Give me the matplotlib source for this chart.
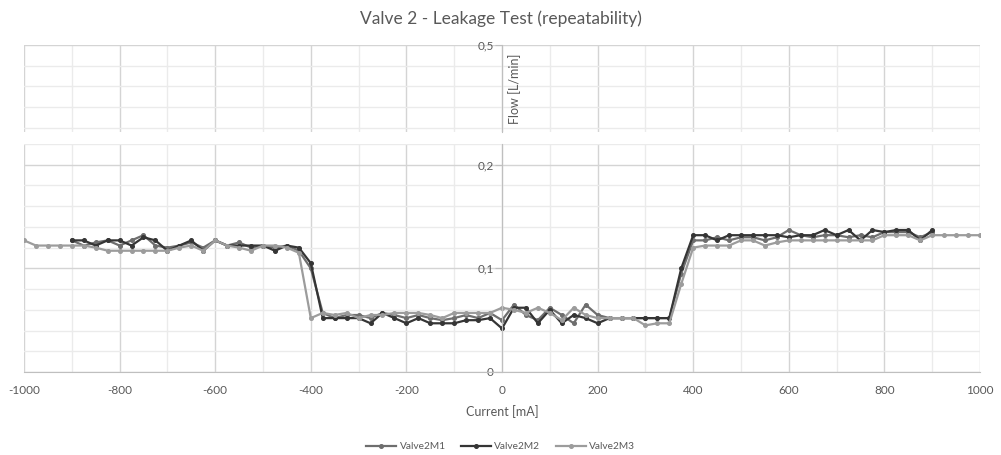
import matplotlib
matplotlib.use("Agg")
import matplotlib.pyplot as plt
from matplotlib.ticker import MultipleLocator, FixedLocator, FuncFormatter

plt.rcParams['font.family'] = ['Lato', 'DejaVu Sans']
plt.rcParams['axes.unicode_minus'] = False

# current sweep [mA]
current_long = list(range(-1000, 1001, 25))
current_short = list(range(-900, 901, 25))

flow_m1 = [0.127, 0.122, 0.125, 0.127, 0.122, 0.127, 0.132, 0.122, 0.120, 0.122,
           0.125, 0.120, 0.127, 0.122, 0.125, 0.120, 0.122, 0.120, 0.122, 0.117,
           0.100, 0.057, 0.052, 0.055, 0.055, 0.052, 0.057, 0.055, 0.052, 0.055,
           0.052, 0.050, 0.052, 0.055, 0.052, 0.057, 0.050, 0.065, 0.055, 0.050,
           0.062, 0.055, 0.047, 0.065, 0.055, 0.052, 0.052, 0.052, 0.052, 0.052,
           0.052, 0.095, 0.127, 0.127, 0.130, 0.127, 0.130, 0.130, 0.127, 0.130,
           0.137, 0.132, 0.130, 0.132, 0.132, 0.130, 0.132, 0.130, 0.135, 0.135,
           0.135, 0.130, 0.135]

flow_m2 = [0.127, 0.127, 0.122, 0.127, 0.127, 0.122, 0.130, 0.127, 0.117, 0.122,
           0.127, 0.117, 0.127, 0.122, 0.122, 0.122, 0.122, 0.117, 0.122, 0.120,
           0.105, 0.052, 0.052, 0.052, 0.052, 0.047, 0.057, 0.052, 0.047, 0.052,
           0.047, 0.047, 0.047, 0.050, 0.050, 0.052, 0.042, 0.062, 0.062, 0.047,
           0.060, 0.047, 0.055, 0.052, 0.047, 0.052, 0.052, 0.052, 0.052, 0.052,
           0.052, 0.100, 0.132, 0.132, 0.127, 0.132, 0.132, 0.132, 0.132, 0.132,
           0.130, 0.132, 0.132, 0.137, 0.132, 0.137, 0.127, 0.137, 0.135, 0.137,
           0.137, 0.127, 0.137]

flow_m3 = [0.127, 0.122, 0.122, 0.122, 0.122, 0.122, 0.120, 0.117, 0.117, 0.117,
           0.117, 0.117, 0.117, 0.120, 0.122, 0.117, 0.127, 0.122, 0.120, 0.117,
           0.122, 0.122, 0.120, 0.115, 0.052, 0.057, 0.055, 0.057, 0.052, 0.055,
           0.055, 0.057, 0.057, 0.057, 0.055, 0.052, 0.057, 0.057, 0.057, 0.057,
           0.062, 0.060, 0.057, 0.062, 0.057, 0.050, 0.062, 0.055, 0.052, 0.052,
           0.052, 0.052, 0.045, 0.047, 0.047, 0.085, 0.120, 0.122, 0.122, 0.122,
           0.127, 0.127, 0.122, 0.125, 0.127, 0.127, 0.127, 0.127, 0.127, 0.127,
           0.127, 0.127, 0.132, 0.132, 0.132, 0.127, 0.132, 0.132, 0.132, 0.132,
           0.132]

series = [
    ("Valve2M1", current_short, flow_m1, "#6e6e6e"),
    ("Valve2M2", current_short, flow_m2, "#353535"),
    ("Valve2M3", current_long, flow_m3, "#9c9c9c"),
]

txt = "#595959"
grid_major = "#d4d4d4"
grid_minor = "#ebebeb"
axis_col = "#bfbfbf"

fig = plt.figure(figsize=(10.01, 4.55), dpi=100)
left, width = 24 / 1001, 956 / 1001
ax_top = fig.add_axes([left, (455 - 132) / 455, width, 87 / 455])
ax = fig.add_axes([left, (455 - 372) / 455, width, 228 / 455])

for a in (ax, ax_top):
    a.set_xlim(-1000, 1000)
    a.set_axisbelow(True)
    a.xaxis.set_major_locator(MultipleLocator(200))
    a.xaxis.set_minor_locator(MultipleLocator(100))
    a.grid(which="major", axis="both", color=grid_major, lw=1.0)
    a.grid(which="minor", axis="both", color=grid_minor, lw=1.0)
    a.spines["top"].set_visible(False)
    a.spines["right"].set_visible(False)
    a.spines["left"].set_position(("data", 0))
    a.spines["left"].set_color(axis_col)
    a.spines["bottom"].set_color(axis_col)
    a.tick_params(axis="y", which="major", length=5, color=axis_col, labelsize=8.5,
                  labelcolor=txt, pad=1)
    a.tick_params(axis="y", which="minor", length=0)
    a.yaxis.set_major_formatter(FuncFormatter(lambda v, p: f"{v:g}".replace(".", ",")))

# lower part: 0 .. 0.22
ax.set_ylim(0, 0.22)
ax.yaxis.set_major_locator(FixedLocator([0, 0.1, 0.2]))
ax.yaxis.set_minor_locator(MultipleLocator(0.02))
ax.tick_params(axis="x", which="both", length=0, labelsize=8.5, labelcolor=txt, pad=9)
ax.xaxis.set_major_formatter(FuncFormatter(lambda v, p: f"{v:.0f}"))
ax.set_xlabel("Current [mA]", fontsize=9, color=txt, labelpad=7)

# upper part of the broken axis: 0.416 .. 0.5
ax_top.set_ylim(0.416, 0.5)
ax_top.yaxis.set_major_locator(FixedLocator([0.5]))
ax_top.yaxis.set_minor_locator(FixedLocator([0.42, 0.44, 0.46, 0.48]))
ax_top.spines["bottom"].set_visible(False)
ax_top.tick_params(axis="x", which="both", length=0, labelbottom=False)
ax_top.text(12, 0.458, "Flow [L/min]", rotation=90, ha="left", va="center",
            fontsize=9, color=txt)

for name, xs, ys, col in series:
    ax.plot(xs, ys, color=col, lw=1.6, marker="o", ms=2.6, label=name)

fig.suptitle("Valve 2 - Leakage Test (repeatability)", y=0.978, fontsize=12.5, color=txt)
fig.legend(loc="center", bbox_to_anchor=(0.5, 0.018), ncol=3, frameon=False,
           fontsize=7.3, labelcolor=txt, handlelength=3, columnspacing=1.5,
           handletextpad=0.3)

fig.savefig("out.png", dpi=100)
